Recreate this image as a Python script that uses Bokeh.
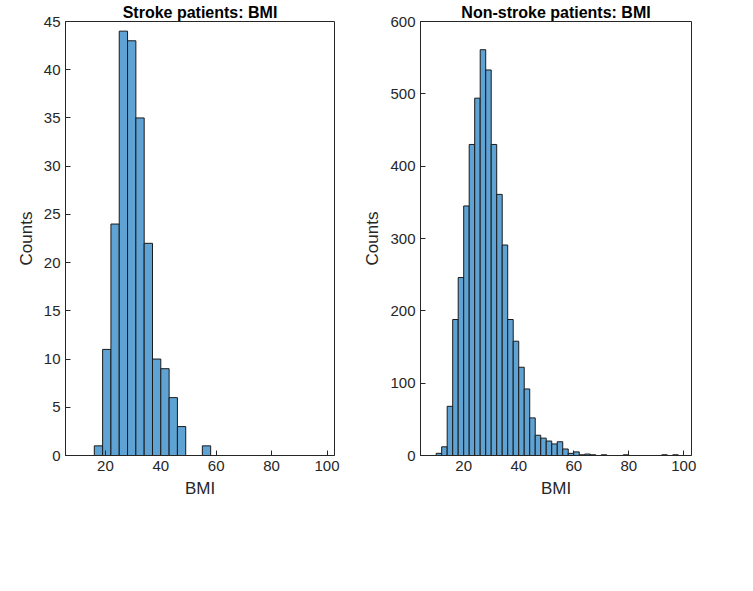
from bokeh.plotting import figure
from bokeh.models import FixedTicker, Range1d
from bokeh.layouts import row
from bokeh.embed import file_html
from bokeh.resources import INLINE

stroke_edges = [16, 19, 22, 25, 28, 31, 34, 37, 40, 43, 46, 49, 52, 55, 58]
stroke_counts = [1, 11, 24, 44, 43, 35, 22, 10, 9, 6, 3, 0, 0, 1]

non_edges = list(range(10, 100, 2))
non_counts = [3, 12, 68, 188, 246, 345, 430, 494, 561, 533,
              430, 361, 291, 188, 158, 122, 92, 52, 28, 24,
              20, 16, 19, 9, 3, 5, 1, 2, 1, 0,
              1, 0, 0, 0, 1, 0, 0, 0, 0, 0,
              0, 1, 0, 1]

FONT = "Liberation Sans"
TXT = "#262626"


def style(p, yticks):
    p.title.text_font = FONT
    p.title.text_font_size = "16px"
    p.title.text_font_style = "bold"
    p.title.text_color = "black"
    p.title.align = "center"
    p.title.standoff = 2
    p.xgrid.visible = False
    p.ygrid.visible = False
    p.outline_line_color = TXT
    for ax in p.xaxis + p.yaxis:
        ax.axis_label_text_font = FONT
        ax.axis_label_text_font_size = "17px"
        ax.axis_label_text_font_style = "normal"
        ax.axis_label_text_color = TXT
        ax.major_label_text_font = FONT
        ax.major_label_text_font_size = "15px"
        ax.major_label_text_color = TXT
        ax.major_tick_in = 5
        ax.major_tick_out = 0
        ax.minor_tick_line_color = None
        ax.axis_line_color = TXT
        ax.major_tick_line_color = TXT
    p.xaxis.ticker = FixedTicker(ticks=[20, 40, 60, 80, 100])
    p.yaxis.ticker = FixedTicker(ticks=yticks)


def hist(title, edges, counts, xr, ymax, yticks, fw, bl, br):
    p = figure(title=title, frame_width=fw, frame_height=434, output_backend="svg",
               toolbar_location=None, x_range=Range1d(*xr), y_range=Range1d(0, ymax),
               min_border_left=bl, min_border_right=br, min_border_top=0,
               min_border_bottom=80)
    p.quad(left=edges[:-1], right=edges[1:len(counts) + 1], bottom=0, top=counts,
           fill_color="#5FA3D4", line_color="#1a1a1a", line_width=1)
    p.xaxis.axis_label = "BMI"
    p.yaxis.axis_label = "Counts"
    style(p, yticks)
    return p


p1 = hist("Stroke patients: BMI", stroke_edges, stroke_counts, (5.6, 102.7), 45,
          list(range(0, 46, 5)), 269, 65, 26)
p2 = hist("Non-stroke patients: BMI", non_edges, non_counts, (4.3, 102.8), 600,
          list(range(0, 601, 100)), 271, 55, 40)

layout = row(p1, p2)
open("out.html", "w").write(file_html(layout, INLINE))
